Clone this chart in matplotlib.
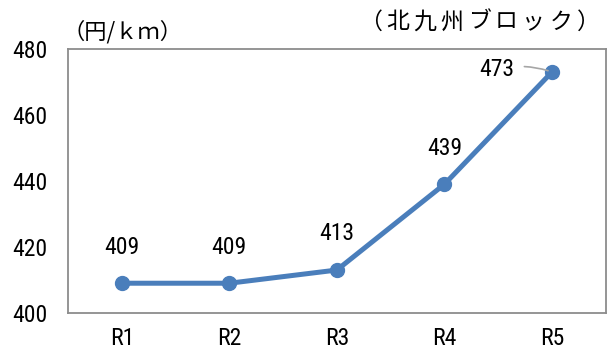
import matplotlib.pyplot as plt

# データ
periods = ['R1', 'R2', 'R3', 'R4', 'R5']
values = [409, 409, 413, 439, 473]
yticks = [400, 420, 440, 460, 480]
region_title = '（北九州ブロック）'
unit_label = '（円/ｋｍ）'

num_font = ['Roboto Condensed', 'DejaVu Sans']
jp_font = ['Noto Sans CJK JP', 'DejaVu Sans']

fig = plt.figure(figsize=(6.07, 3.52), dpi=100)
ax = fig.add_axes([0.112, 0.111, 0.886, 0.750])

x = list(range(len(periods)))
ax.plot(x, values, color='#4a7ebb', linewidth=3.6, marker='o', markersize=10,
        solid_capstyle='round', zorder=3)

# データラベル
for i, v in enumerate(values):
    if i == len(values) - 1:
        ax.annotate(str(v), xy=(i, v), xytext=(i - 0.51, v + 0.8),
                    ha='center', va='center', fontsize=17, family=num_font,
                    arrowprops=dict(arrowstyle='-', color='#a6a6a6', lw=1.2,
                                    shrinkA=5, shrinkB=3,
                                    connectionstyle='arc3,rad=-0.15'))
    else:
        ax.annotate(str(v), xy=(i, v), xytext=(0, 26), textcoords='offset points',
                    ha='center', va='center', fontsize=17, family=num_font)

ax.set_xlim(-0.5, 4.5)
ax.set_ylim(400, 480)
ax.set_xticks(x)
ax.set_xticklabels(periods, family=num_font, fontsize=17)
ax.set_yticks(yticks)
ax.set_yticklabels([str(t) for t in yticks], family=num_font, fontsize=17)
ax.tick_params(length=0)
ax.tick_params(axis='x', pad=10)
ax.tick_params(axis='y', pad=15)

for s in ax.spines.values():
    s.set_color('#8c8c8c')
    s.set_linewidth(1.3)

fig.text(62 / 607, 1 - 32 / 352, unit_label, family=jp_font, fontsize=16,
         ha='left', va='center')
# 文字間隔を広げて一文字ずつ配置
x0, x1 = 370, 588
step = (x1 - x0) / (len(region_title) - 1)
for k, ch in enumerate(region_title):
    fig.text((x0 + k * step) / 607, 1 - 22 / 352, ch, family=jp_font, fontsize=16.5,
             ha='center', va='center')

fig.savefig('out.png', dpi=100)
